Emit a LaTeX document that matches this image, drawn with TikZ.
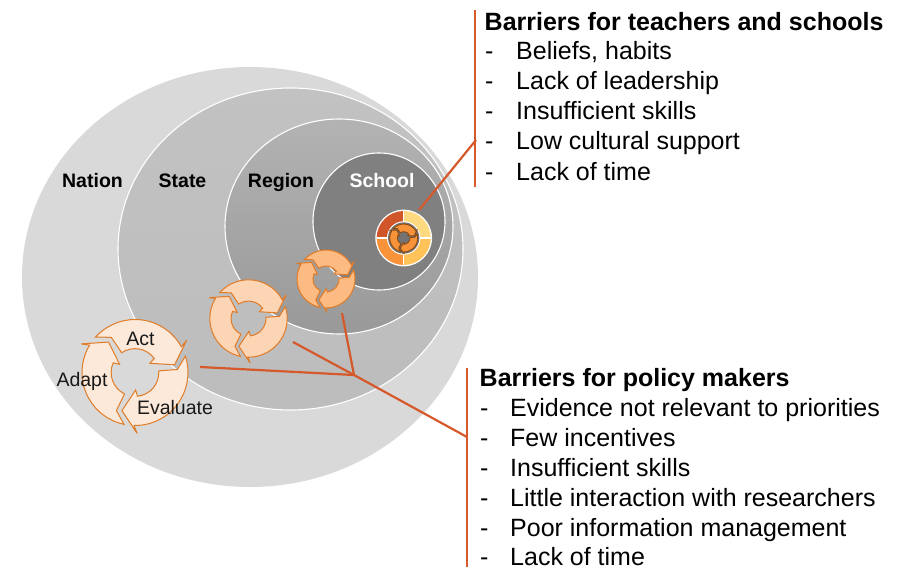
\documentclass[tikz,border=0pt]{standalone}
\usepackage{fontspec}
\setmainfont{Liberation Sans}
\usetikzlibrary{calc}
\definecolor{cyc}{HTML}{E07B28}
\definecolor{cycd}{HTML}{8A4A14}
\definecolor{cycA}{HTML}{FDE9D9}
\definecolor{cycB}{HTML}{FCD5B5}
\definecolor{cycC}{HTML}{FBBB82}
\definecolor{tTL}{HTML}{D0562A}
\definecolor{tTR}{HTML}{FFD97F}
\definecolor{tBL}{HTML}{F9933A}
\definecolor{tBR}{HTML}{FFC35A}
\definecolor{barline}{HTML}{D5592B}
\tikzset{
  lbl/.style={font=\fontsize{19.5}{22}\selectfont\bfseries,anchor=base,inner sep=0pt},
  cyclbl/.style={font=\fontsize{19.5}{22}\selectfont,anchor=base,inner sep=0pt,text=black!90},
  head/.style={font=\fontsize{25}{28}\selectfont\bfseries,anchor=base west,inner sep=0pt},
  item/.style={font=\fontsize{25}{28}\selectfont,anchor=base west,inner sep=0pt},
  barrier/.style={barline,line width=2.2pt},
  zone/.style={draw=white,line width=1.1pt},
  pics/cycle/.style n args={3}{code={
    \foreach \a in {0,120,240}{
      \draw[fill=#1,draw=#2,line width=#3,line join=miter,miter limit=4]
        ({\a+138}:1) -- ({\a+124}:.8) -- ({\a+124}:.45)
        arc[start angle=\a+124,end angle=\a+36,radius=.45]
        -- ({\a+32}:.33) -- ({\a+11}:.76) -- ({\a+32}:1.15) -- ({\a+29}:1)
        arc[start angle=\a+29,end angle=\a+138,radius=1] -- cycle;
    }
  }},
  pics/quads/.style={code={
    \fill[white] (0,0) circle (1.05);
    \fill[tTL] (0,0) -- (180:1) arc[start angle=180,end angle=90,radius=1] -- cycle;
    \fill[tTR] (0,0) -- (90:1) arc[start angle=90,end angle=0,radius=1] -- cycle;
    \fill[tBR] (0,0) -- (0:1) arc[start angle=0,end angle=-90,radius=1] -- cycle;
    \fill[tBL] (0,0) -- (-90:1) arc[start angle=-90,end angle=-180,radius=1] -- cycle;
    \draw[white,line width=1.2pt] (-1,0) -- (1,0) (0,-1) -- (0,1);
    \fill[white] (0,0) circle (.62);
    \fill[black!55] (0,0) circle (.58);
  }}
}
\begin{document}
\begin{tikzpicture}[x=1pt,y=1pt,yscale=-1]
\useasboundingbox (0,0) rectangle (901,569);
% zones
\fill[black!15] (250,277) ellipse [x radius=228,y radius=210];
\path[zone,top color=black!24,bottom color=black!26] (290.5,249) ellipse [x radius=172.5,y radius=161];
\path[zone,top color=black!30,bottom color=black!40] (339,226.5) ellipse [x radius=114,y radius=107.5];
\path[zone,fill=black!50] (379,221.5) ellipse [x radius=66,y radius=68.5];
% zone labels
\node[lbl] (nation) at (92.5,187.5) {Nation};
\node[lbl] (state) at (182.5,187.5) {State};
\node[lbl] (region) at (281,187.5) {Region};
\node[lbl,text=white] (school) at (382,187.5) {School};
% cycles
\pic[scale=53] at (135,372.5) {cycle={cycA}{cyc}{1pt}};
\pic[scale=38.7] at (248.5,318.5) {cycle={cycB}{cyc}{1pt}};
\pic[scale=29] at (326,279) {cycle={cycC}{cyc}{1pt}};
% target
\coordinate (tc) at (403.7,238);
\pic[scale=27] at (tc) {quads};
\pic[scale=14] at (tc) {cycle={tBL}{cycd}{.9pt}};
% connectors
\coordinate (joint) at (354,375);
\coordinate (a1) at (200,367);
\coordinate (a2) at (293,342);
\coordinate (a3) at (342,313);
\coordinate (a4) at (467,437);
\coordinate (b1) at (476,140);
\coordinate (b2) at (419,210);
\coordinate (v1t) at (475,10);
\coordinate (v1b) at (475,187);
\coordinate (v2t) at (467,368);
\coordinate (v2b) at (467,567);
\draw[barrier] (a1) -- (joint);
\draw[barrier] (a2) -- (joint);
\draw[barrier] (a3) -- (joint);
\draw[barrier] (joint) -- (a4);
\draw[barrier] (b1) -- (b2);
\draw[barrier] (v1t) -- (v1b);
\draw[barrier] (v2t) -- (v2b);
% cycle labels
\node[cyclbl] (act) at (140.5,345.5) {Act};
\node[cyclbl] (adapt) at (82,386.5) {Adapt};
\node[cyclbl] (eval) at (175,414) {Evaluate};
% teacher list
\node[head] (th) at (484.5,30.5) {Barriers for teachers and schools};
\foreach \n/\y/\t in {1/60/{Beliefs, habits},2/90/{Lack of leadership},3/120/{Insufficient skills},4/150/{Low cultural support},5/180.5/{Lack of time}}{
  \node[item] (td\n) at (485,\y) {-};
  \node[item] (ti\n) at (516,\y) {\t};
}
% policy list
\node[head] (ph) at (479.5,386.5) {Barriers for policy makers};
\foreach \n/\y/\t in {1/416.5/{Evidence not relevant to priorities},2/446.5/{Few incentives},3/476.5/{Insufficient skills},4/506.5/{Little interaction with researchers},5/536.5/{Poor information management},6/565/{Lack of time}}{
  \node[item] (pd\n) at (480,\y) {-};
  \node[item] (pi\n) at (510,\y) {\t};
}
\end{tikzpicture}
\end{document}
